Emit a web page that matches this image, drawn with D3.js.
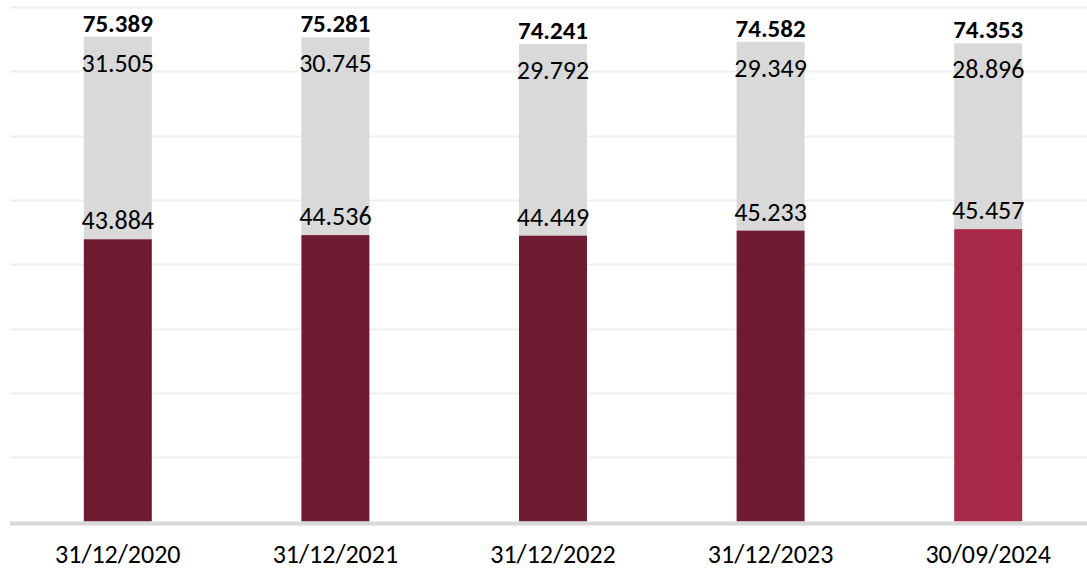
<!DOCTYPE html>
<html>
<head>
<meta charset="utf-8">
<script src="https://cdn.jsdelivr.net/npm/d3@7"></script>
<style>
  html, body { margin: 0; padding: 0; background: #fff; }
  svg text { font-family: Carlito, Lato, "Open Sans", sans-serif; fill: #000; }
</style>
</head>
<body>
<div id="chart"></div>
<script>
  // values
  const dates = ['31/12/2020', '31/12/2021', '31/12/2022', '31/12/2023', '30/09/2024'];
  const lower = [43884, 44536, 44449, 45233, 45457];
  const upper = [31505, 30745, 29792, 29349, 28896];
  const totals = [75389, 75281, 74241, 74582, 74353];
  const gridTicks = [10000, 20000, 30000, 40000, 50000, 60000, 70000, 80000];

  const width = 1087;
  const height = 570;
  const margin = { top: 7, right: -10, bottom: 48, left: 9 };

  const fmt = (v) => d3.format(',')(v).replace(/,/g, '.');

  const svg = d3.select('#chart').append('svg')
    .attr('width', width)
    .attr('height', height);

  const x = d3.scaleBand()
    .domain(dates)
    .range([margin.left, width - margin.right])
    .paddingInner(0.6875)
    .paddingOuter(0.34375);

  const y = d3.scaleLinear()
    .domain([0, 80000])
    .range([height - margin.bottom - 0.5, margin.top]);

  // gridlines
  svg.append('g')
    .selectAll('line')
    .data(gridTicks)
    .join('line')
    .attr('x1', margin.left + 1)
    .attr('x2', width)
    .attr('y1', (d) => Math.round(y(d)) + 0.5)
    .attr('y2', (d) => Math.round(y(d)) + 0.5)
    .attr('stroke', '#efefef')
    .attr('stroke-width', 2);

  const rows = dates.map((d, i) => ({ d, lo: lower[i], up: upper[i], tot: totals[i], last: i === dates.length - 1 }));

  // gray upper segment
  svg.append('g')
    .selectAll('rect')
    .data(rows)
    .join('rect')
    .attr('x', (r) => x(r.d))
    .attr('width', x.bandwidth())
    .attr('y', (r) => y(r.lo + r.up))
    .attr('height', (r) => y(r.lo) - y(r.lo + r.up))
    .attr('fill', '#d9d9d9');

  // maroon lower segment
  svg.append('g')
    .selectAll('rect')
    .data(rows)
    .join('rect')
    .attr('x', (r) => x(r.d))
    .attr('width', x.bandwidth())
    .attr('y', (r) => y(r.lo))
    .attr('height', (r) => y(0) - y(r.lo))
    .attr('fill', (r) => r.last ? '#a8284a' : '#6f1c33');

  // baseline
  svg.append('line')
    .attr('x1', margin.left + 1)
    .attr('x2', width)
    .attr('y1', y(0) + 2)
    .attr('y2', y(0) + 2)
    .attr('stroke', '#d9d9d9')
    .attr('stroke-width', 4);

  const cx = (r) => x(r.d) + x.bandwidth() / 2;

  // labels
  const labels = svg.append('g')
    .attr('text-anchor', 'middle')
    .style('font-size', '26px');

  labels.selectAll('.tot')
    .data(rows)
    .join('text')
    .attr('class', 'tot')
    .attr('x', cx)
    .attr('y', (r) => y(r.lo + r.up) - 5)
    .style('font-weight', 'bold')
    .style('font-size', '25px')
    .text((r) => fmt(r.tot));

  labels.selectAll('.up')
    .data(rows)
    .join('text')
    .attr('class', 'up')
    .attr('x', cx)
    .attr('y', (r) => y(r.lo + r.up) + 35)
    .text((r) => fmt(r.up));

  labels.selectAll('.lo')
    .data(rows)
    .join('text')
    .attr('class', 'lo')
    .attr('x', cx)
    .attr('y', (r) => y(r.lo) - 10)
    .text((r) => fmt(r.lo));

  // x axis labels
  labels.selectAll('.cat')
    .data(rows)
    .join('text')
    .attr('class', 'cat')
    .attr('x', cx)
    .attr('y', height - 7)
    .text((r) => r.d);
</script>
</body>
</html>
